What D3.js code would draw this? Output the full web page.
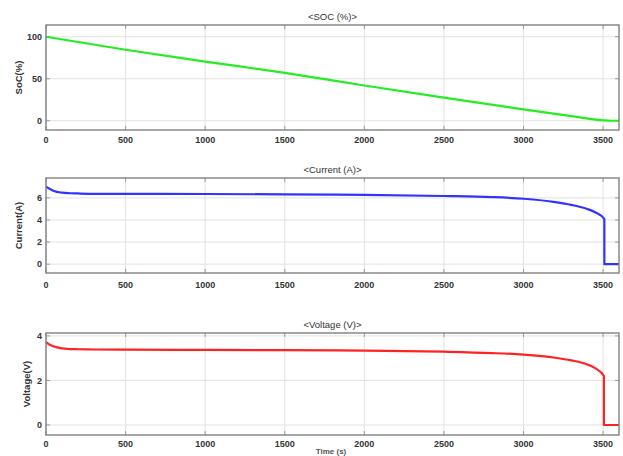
<!DOCTYPE html>
<html><head><meta charset="utf-8">
<script src="https://cdn.jsdelivr.net/npm/d3@7"></script>
<style>
body{margin:0;background:#fff;}
text{font-family:"Liberation Sans",Arial,sans-serif;}
</style></head>
<body><svg id="c" width="623" height="456"></svg>
<script>
const socTime = [0,500,1000,1500,2000,2500,3000,3300,3500,3550,3600];
const socVals = [100,84.5,70.5,57,42,27.5,13.5,5.5,0.5,0,0];
const curTime = [0,20,50,100,150,200,300,500,1000,1500,2000,2500,2800,3000,3200,3300,3400,3450,3508,3508,3600];
const curVals = [7.0,6.85,6.62,6.47,6.42,6.4,6.37,6.36,6.35,6.32,6.27,6.17,6.07,5.92,5.62,5.37,5.0,4.7,4.08,0,0];
const volTime = [0,20,50,100,150,200,300,500,1000,1500,2000,2500,2800,3000,3200,3300,3400,3450,3505,3505,3600];
const volVals = [3.72,3.62,3.52,3.44,3.41,3.4,3.39,3.38,3.37,3.36,3.34,3.29,3.23,3.16,3.02,2.9,2.72,2.55,2.2,0,0];
const xTicks = [0,500,1000,1500,2000,2500,3000,3500];

const panels = [
  {title:"<SOC (%)>", ylab:"SoC(%)", t:socTime, v:socVals, color:"#22ee22", top:25, bottom:130, ydom:[-11,114], yticks:[0,50,100], ylx:22, tickLabelY:143},
  {title:"<Current (A)>", ylab:"Current(A)", t:curTime, v:curVals, color:"#3333ff", top:178, bottom:273, ydom:[-0.8,7.8], yticks:[0,2,4,6], ylx:22, tickLabelY:288},
  {title:"<Voltage (V)>", ylab:"Voltage(V)", t:volTime, v:volVals, color:"#ff2222", top:333, bottom:435, ydom:[-0.45,4.13], yticks:[0,2,4], ylx:30, tickLabelY:447}
];
const svg = d3.select("#c");
const L=46, R=619;
const x = d3.scaleLinear().domain([0,3600]).range([L,R]);

panels.forEach(p=>{
  const y = d3.scaleLinear().domain(p.ydom).range([p.bottom,p.top]);
  const g = svg.append("g");
  g.append("rect").attr("x",L).attr("y",p.top).attr("width",R-L).attr("height",p.bottom-p.top).attr("fill","#fff");
  g.selectAll(".gx").data(xTicks).join("line").attr("x1",d=>x(d)).attr("x2",d=>x(d)).attr("y1",p.top).attr("y2",p.bottom).attr("stroke","#e2e2e2").attr("stroke-width",1);
  g.selectAll(".gy").data(p.yticks).join("line").attr("x1",L).attr("x2",R).attr("y1",d=>y(d)).attr("y2",d=>y(d)).attr("stroke","#e2e2e2").attr("stroke-width",1);
  const tl=4;
  g.selectAll(".tb").data(xTicks).join("line").attr("x1",d=>x(d)).attr("x2",d=>x(d)).attr("y1",p.bottom).attr("y2",p.bottom-tl).attr("stroke","#999");
  g.selectAll(".tt").data(xTicks).join("line").attr("x1",d=>x(d)).attr("x2",d=>x(d)).attr("y1",p.top).attr("y2",p.top+tl).attr("stroke","#999");
  g.selectAll(".tl").data(p.yticks).join("line").attr("x1",L).attr("x2",L+tl).attr("y1",d=>y(d)).attr("y2",d=>y(d)).attr("stroke","#999");
  g.selectAll(".tr").data(p.yticks).join("line").attr("x1",R).attr("x2",R-tl).attr("y1",d=>y(d)).attr("y2",d=>y(d)).attr("stroke","#999");
  const line = d3.line().x((d,i)=>x(p.t[i])).y((d,i)=>y(d)).curve(d3.curveMonotoneX);
  g.append("path").datum(p.v).attr("d",line).attr("fill","none").attr("stroke",p.color).attr("stroke-width",2.2).attr("stroke-linejoin","round");
  g.append("rect").attr("x",L).attr("y",p.top).attr("width",R-L).attr("height",p.bottom-p.top).attr("fill","none").attr("stroke","#808080").attr("stroke-width",1.4);
  g.selectAll(".xl").data(xTicks).join("text").attr("x",d=>x(d)).attr("y",p.tickLabelY).attr("text-anchor","middle").attr("font-size",9).attr("font-weight","bold").attr("fill","#333").text(d=>d);
  g.selectAll(".yl").data(p.yticks).join("text").attr("x",L-4).attr("y",d=>y(d)+3.2).attr("text-anchor","end").attr("font-size",9).attr("font-weight","bold").attr("fill","#333").text(d=>d);
  g.append("text").attr("x",(L+R)/2).attr("y",p.top-5).attr("text-anchor","middle").attr("font-size",9.5).attr("fill","#333").text(p.title);
  const cy=(p.top+p.bottom)/2;
  g.append("text").attr("transform",`translate(${p.ylx},${cy}) rotate(-90)`).attr("text-anchor","middle").attr("font-size",9.5).attr("font-weight","bold").attr("fill","#333").text(p.ylab);
});
svg.append("text").attr("x",331).attr("y",454).attr("text-anchor","middle").attr("font-size",8).attr("font-weight","bold").attr("fill","#555").text("Time (s)");
</script></body></html>
